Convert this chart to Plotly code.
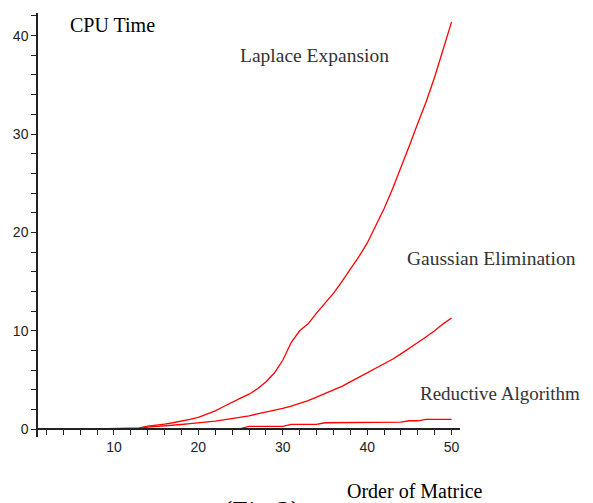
import plotly.graph_objects as go

# ---- data ----
order = list(range(8, 51))

laplace = [0.02, 0.03, 0.05, 0.07, 0.10, 0.13, 0.30, 0.38, 0.50, 0.65,
           0.80, 1.00, 1.20, 1.50, 1.85, 2.30, 2.75, 3.15, 3.55, 4.10,
           4.80, 5.70, 7.00, 8.80, 10.0, 10.7, 11.8, 12.8, 13.8, 15.0,
           16.2, 17.5, 18.9, 20.6, 22.4, 24.4, 26.5, 28.8, 31.1, 33.3,
           35.8, 38.6, 41.4]

gaussian = [0.01, 0.02, 0.03, 0.04, 0.06, 0.08, 0.20, 0.25, 0.32, 0.40,
            0.47, 0.55, 0.63, 0.72, 0.82, 0.95, 1.07, 1.20, 1.35, 1.55,
            1.72, 1.90, 2.10, 2.35, 2.60, 2.90, 3.25, 3.60, 3.97, 4.35,
            4.80, 5.25, 5.70, 6.15, 6.60, 7.10, 7.65, 8.20, 8.80, 9.40,
            10.0, 10.7, 11.3]

reductive = [0.02, 0.02, 0.02, 0.02, 0.02, 0.02, 0.03, 0.03, 0.03, 0.05,
             0.05, 0.05, 0.05, 0.05, 0.05, 0.05, 0.05, 0.05, 0.28, 0.28,
             0.28, 0.28, 0.28, 0.48, 0.48, 0.48, 0.48, 0.65, 0.65, 0.65,
             0.65, 0.65, 0.65, 0.72, 0.72, 0.72, 0.72, 0.85, 0.85, 0.99,
             0.99, 0.99, 0.99]

series_names = ["Laplace Expansion", "Gaussian Elimination", "Reductive Algorithm"]
x_ticks = [10, 20, 30, 40, 50]
y_ticks = [0, 10, 20, 30, 40]

# ---- layout geometry (page has an 8px body margin) ----
OFF = 8
W, H = 593 - OFF, 503 - OFF
PL, PR, PT, PB = 36, 460, 13, 437          # plot area in page pixels
L, T = PL - OFF, PT - OFF
R, B = 593 - PR, 503 - PB
plot_w = PR - PL
plot_h = PB - PT
y_lo, y_hi = -0.8, 42.3


def px(xp):
    return (xp - PL) / plot_w


def py(yp):
    return (PB - yp) / plot_h


serif = "Liberation Serif, Times New Roman, serif"
sans = "Liberation Sans, Arial, sans-serif"

fig = go.Figure()
for name, vals in zip(series_names, [laplace, gaussian, reductive]):
    fig.add_trace(go.Scatter(x=order, y=vals, mode="lines", name=name,
                             line=dict(color="#ff0000", width=1.3)))

axis_common = dict(showgrid=False, zeroline=False, showline=True,
                   linecolor="#222222", linewidth=1.5,
                   ticks="outside", ticklen=5, tickwidth=1.2, tickcolor="#222222",
                   tickfont=dict(family=sans, size=14, color="#222222"))

fig.update_layout(
    width=W, height=H,
    margin=dict(l=L, r=R, t=T, b=B, pad=0),
    paper_bgcolor="white", plot_bgcolor="white",
    showlegend=False,
    xaxis=dict(range=[1, 51], tickvals=x_ticks, anchor="free",
               position=(0 - y_lo) / (y_hi - y_lo),
               minor=dict(dtick=2, tick0=0, ticks="outside", ticklen=5,
                          tickwidth=1.2, tickcolor="#222222"),
               **axis_common),
    yaxis=dict(range=[y_lo, y_hi], tickvals=y_ticks,
               minor=dict(dtick=2, tick0=0, ticks="outside", ticklen=5,
                          tickwidth=1.2, tickcolor="#222222"),
               **axis_common),
)

labels = [
    ("CPU Time", 110.5, 25, 20, "#000000", "center"),
    ("Laplace Expansion", 313.5, 55, 19.5, "#333333", "center"),
    ("Gaussian Elimination", 579, 258, 19.5, "#333333", "right"),
    ("Reductive Algorithm", 583, 393, 19, "#333333", "right"),
    ("Order of Matrice", 415, 491, 20, "#000000", "center"),
]
for text, xc, yc, size, color, anchor in labels:
    fig.add_annotation(text=text, xref="paper", yref="paper",
                       x=px(xc), y=py(yc), xanchor=anchor, yanchor="middle",
                       showarrow=False,
                       font=dict(family=serif, size=size, color=color))

fig.add_annotation(text="(Fig.2)", xref="paper", yref="paper",
                   x=px(261), y=py(493), xanchor="center", yanchor="top",
                   showarrow=False,
                   font=dict(family=serif, size=28, color="#000000"))

fig.write_html("out.html")
